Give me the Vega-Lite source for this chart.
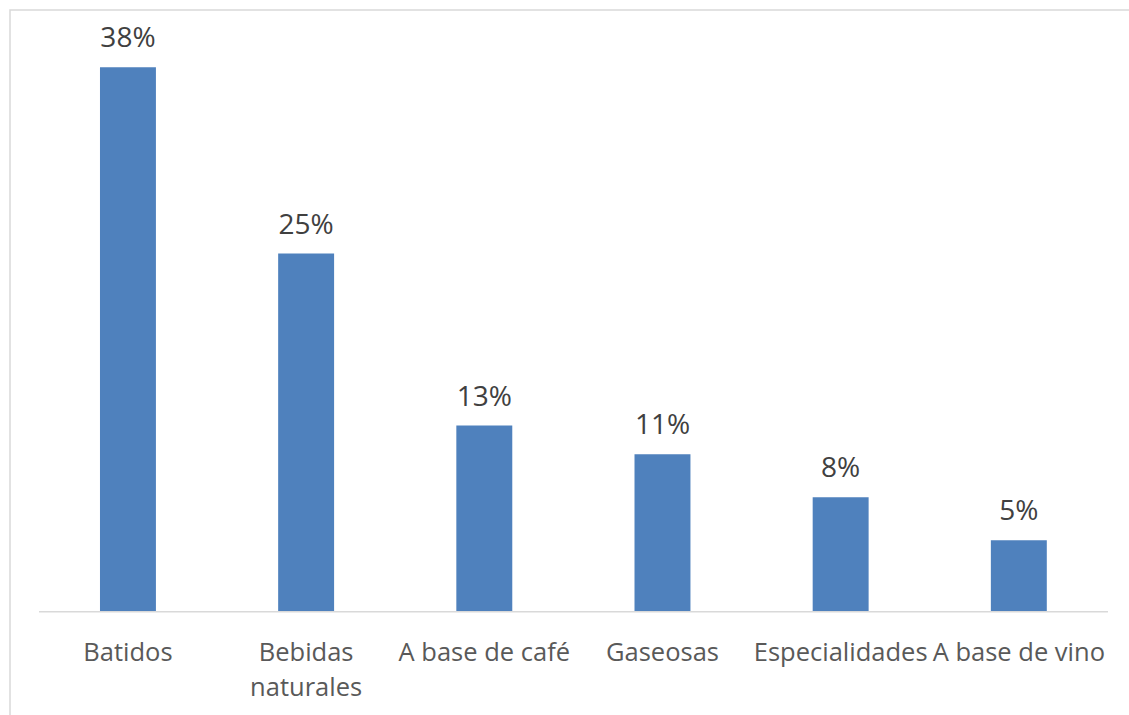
{
  "$schema": "https://vega.github.io/schema/vega-lite/v6.json",
  "autosize": {"type": "none"},
  "padding": {"left": 10, "top": 10, "right": 0, "bottom": 0},
  "width": 1125,
  "height": 710,
  "background": "white",
  "view": {"stroke": "#d9d9d9", "strokeWidth": 1.5},
  "config": {"font": "Open Sans"},
  "data": {
    "values": [
      {"categoria": "Batidos", "valor": 38},
      {"categoria": "Bebidas naturales", "valor": 25},
      {"categoria": "A base de café", "valor": 13},
      {"categoria": "Gaseosas", "valor": 11},
      {"categoria": "Especialidades", "valor": 8},
      {"categoria": "A base de vino", "valor": 5}
    ]
  },
  "encoding": {
    "x": {
      "field": "categoria",
      "type": "nominal",
      "sort": null,
      "scale": {"paddingInner": 0.686, "paddingOuter": 0.5, "align": 0.505},
      "axis": {
        "title": null,
        "orient": "bottom",
        "offset": -108,
        "domain": false,
        "ticks": false,
        "tickSize": 0,
        "labelPadding": 28,
        "labelAngle": 0,
        "labelFont": "Open Sans",
        "labelFontSize": 25.5,
        "labelColor": "#595959",
        "labelOverlap": false,
        "labelBound": false,
        "labelLimit": 400,
        "labelLineHeight": 35,
        "labelBaseline": "top",
        "labelExpr": "datum.label == 'Bebidas naturales' ? ['Bebidas', 'naturales'] : datum.label"
      }
    }
  },
  "layer": [
    {
      "mark": {"type": "bar", "color": "#4F81BD"},
      "encoding": {
        "y": {
          "field": "valor",
          "type": "quantitative",
          "scale": {"domain": [-7.55, 42], "nice": false, "zero": false},
          "axis": null
        },
        "y2": {"datum": 0}
      }
    },
    {
      "transform": [{"calculate": "datum.valor + '%'", "as": "etiqueta"}],
      "mark": {"type": "text", "baseline": "alphabetic", "dy": -20, "fontSize": 28, "color": "#404040", "font": "Open Sans"},
      "encoding": {
        "y": {"field": "valor", "type": "quantitative"},
        "text": {"field": "etiqueta", "type": "nominal"}
      }
    },
    {
      "data": {"values": [{"base": 0}]},
      "mark": {"type": "rule", "color": "#d9d9d9", "strokeWidth": 1.5},
      "encoding": {
        "x": {"datum": "Batidos", "bandPosition": -1.09},
        "x2": {"datum": "A base de vino", "bandPosition": 2.093},
        "y": {"field": "base", "type": "quantitative"}
      }
    }
  ]
}
